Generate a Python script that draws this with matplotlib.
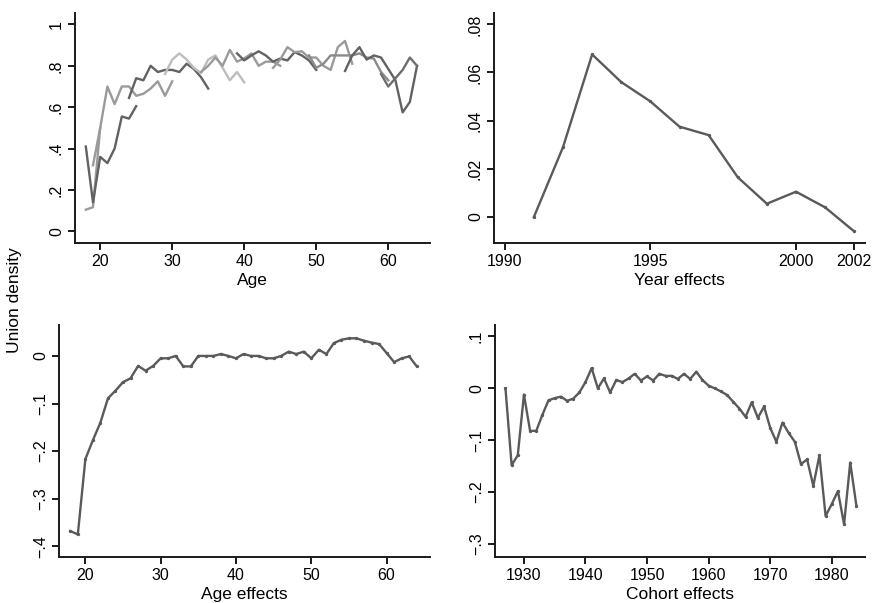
import matplotlib
matplotlib.use("Agg")
import matplotlib.pyplot as plt
import numpy as np

plt.rcParams['font.family'] = ['Liberation Sans', 'DejaVu Sans']

# ---- Panel 1: union density by age, one line per cohort ----
cohort_ages = [
    [18, 19, 20],
    [18, 19, 20, 21, 22, 23, 24, 25],
    [19, 20, 21, 22, 23, 24, 25, 26, 27, 28, 29, 30],
    [24, 25, 26, 27, 28, 29, 30, 31, 32, 33, 34, 35],
    [29, 30, 31, 32, 33, 34, 35, 36, 37, 38, 39, 40],
    [34, 35, 36, 37, 38, 39, 40, 41, 42, 43, 44, 45],
    [39, 40, 41, 42, 43, 44, 45, 46, 47, 48, 49, 50],
    [44, 45, 46, 47, 48, 49, 50, 51, 52, 53, 54, 55],
    [49, 50, 51, 52, 53, 54, 55, 56, 57, 58, 59, 60],
    [54, 55, 56, 57, 58, 59, 60, 61, 62, 63, 64],
    [59, 60, 61, 62, 63, 64],
]
cohort_density = [
    [0.105, 0.117, 0.50],
    [0.41, 0.14, 0.36, 0.33, 0.40, 0.555, 0.545, 0.605],
    [0.32, 0.50, 0.70, 0.615, 0.70, 0.70, 0.655, 0.665, 0.69, 0.725, 0.655, 0.725],
    [0.645, 0.74, 0.73, 0.80, 0.77, 0.78, 0.78, 0.77, 0.81, 0.785, 0.745, 0.69],
    [0.76, 0.83, 0.86, 0.83, 0.79, 0.765, 0.83, 0.85, 0.79, 0.73, 0.77, 0.72],
    [0.77, 0.80, 0.84, 0.80, 0.877, 0.82, 0.835, 0.86, 0.80, 0.82, 0.82, 0.80],
    [0.86, 0.826, 0.85, 0.87, 0.85, 0.82, 0.835, 0.826, 0.866, 0.85, 0.826, 0.78],
    [0.79, 0.83, 0.89, 0.866, 0.87, 0.84, 0.84, 0.80, 0.78, 0.89, 0.92, 0.81],
    [0.85, 0.79, 0.81, 0.85, 0.85, 0.85, 0.85, 0.86, 0.84, 0.835, 0.77, 0.73],
    [0.775, 0.85, 0.89, 0.83, 0.85, 0.84, 0.785, 0.73, 0.575, 0.625, 0.80],
    [0.76, 0.70, 0.74, 0.78, 0.84, 0.80],
]
cohort_colors = ['#9a9a9a', '#626262', '#9a9a9a', '#626262', '#bdbdbd', '#9a9a9a',
                 '#626262', '#9a9a9a', '#8a8a8a', '#626262', '#6e6e6e']

# ---- Panel 2: year effects ----
years = [1991, 1992, 1993, 1994, 1995, 1996, 1997, 1998, 1999, 2000, 2001, 2002]
year_eff = [0.0, 0.029, 0.0675, 0.056, 0.048, 0.0375, 0.034, 0.0165, 0.0055, 0.0105, 0.004, -0.006]

# ---- Panel 3: age effects ----
ages = list(range(18, 65))
age_eff = [-0.368, -0.375, -0.217, -0.177, -0.14, -0.089, -0.073, -0.055, -0.047, -0.021,
           -0.031, -0.021, -0.005, -0.005, 0.0, -0.022, -0.022, 0.0, 0.0, 0.0,
           0.004, 0.0, -0.005, 0.004, 0.0, 0.0, -0.005, -0.005, 0.0, 0.009,
           0.004, 0.009, -0.005, 0.013, 0.004, 0.027, 0.034, 0.037, 0.037, 0.032,
           0.028, 0.025, 0.006, -0.013, -0.005, -0.001, -0.022]

# ---- Panel 4: cohort effects ----
cohorts = list(range(1927, 1985))
cohort_eff = [0.0, -0.148, -0.129, -0.012, -0.082, -0.082, -0.051, -0.023, -0.019, -0.016,
              -0.024, -0.020, -0.008, 0.012, 0.039, 0.0, 0.019, -0.008, 0.016, 0.012,
              0.019, 0.028, 0.015, 0.023, 0.015, 0.028, 0.024, 0.024, 0.018, 0.028,
              0.018, 0.032, 0.016, 0.005, 0.0, -0.006, -0.013, -0.026, -0.039, -0.055,
              -0.027, -0.057, -0.035, -0.076, -0.103, -0.066, -0.086, -0.103, -0.146, -0.137,
              -0.188, -0.129, -0.246, -0.223, -0.198, -0.262, -0.143, -0.226]

LINE = '#5a5a5a'
AX = '#1a1a1a'
TICK_FS = 11.5
LAB_FS = 12.5


def fmt(v):
    if abs(v) < 1e-12:
        return '0'
    s = ('%g' % abs(v))
    if s.startswith('0.'):
        s = s[1:]
    return ('\u2212' if v < 0 else '') + s


def style(ax, xticks, yticks, xlim, ylim, xlabel):
    for s in ['top', 'right']:
        ax.spines[s].set_visible(False)
    for s in ['left', 'bottom']:
        ax.spines[s].set_linewidth(1.4)
        ax.spines[s].set_color(AX)
    ax.set_xlim(*xlim)
    ax.set_ylim(*ylim)
    ax.set_xticks(xticks)
    ax.set_xticklabels([str(t) for t in xticks], fontsize=TICK_FS)
    ax.set_yticks(yticks)
    ax.set_yticklabels([fmt(t) for t in yticks], fontsize=TICK_FS, rotation=90, va='center')
    ax.tick_params(axis='both', direction='out', length=5, width=1.4, color=AX, pad=3)
    ax.set_xlabel(xlabel, fontsize=LAB_FS, labelpad=3)


fig = plt.figure(figsize=(8.73, 6.03), dpi=100)

ax1 = fig.add_axes([75 / 873, 1 - 243 / 603, 355 / 873, 230 / 603])
for a, d, c in zip(cohort_ages, cohort_density, cohort_colors):
    ax1.plot(a, d, color=c, lw=1.7)
style(ax1, [20, 30, 40, 50, 60], [0, 0.2, 0.4, 0.6, 0.8, 1.0], (16.5, 65.8), (-0.056, 1.055), 'Age')

ax2 = fig.add_axes([494 / 873, 1 - 243 / 603, 371 / 873, 230 / 603])
ax2.plot(years, year_eff, color=LINE, lw=1.7, marker='o', ms=1.4)
style(ax2, [1990, 1995, 2000, 2002], [0, 0.02, 0.04, 0.06, 0.08], (1989.63, 2002.37), (-0.0108, 0.0847), 'Year effects')

ax3 = fig.add_axes([59 / 873, 1 - 557 / 603, 371 / 873, 232 / 603])
ax3.plot(ages, age_eff, color=LINE, lw=1.7, marker='o', ms=1.4)
style(ax3, [20, 30, 40, 50, 60], [0, -0.1, -0.2, -0.3, -0.4], (16.5, 65.76), (-0.4225, 0.065), 'Age effects')

ax4 = fig.add_axes([495 / 873, 1 - 557 / 603, 370 / 873, 232 / 603])
ax4.plot(cohorts, cohort_eff, color=LINE, lw=1.7, marker='o', ms=1.4)
style(ax4, [1930, 1940, 1950, 1960, 1970, 1980], [0.1, 0, -0.1, -0.2, -0.3], (1925.3, 1985.4), (-0.325, 0.122), 'Cohort effects')

fig.text(15 / 873, 1 - 300 / 603, 'Union density', rotation=90, va='center', ha='center', fontsize=LAB_FS)

fig.savefig('out.png', dpi=100)
